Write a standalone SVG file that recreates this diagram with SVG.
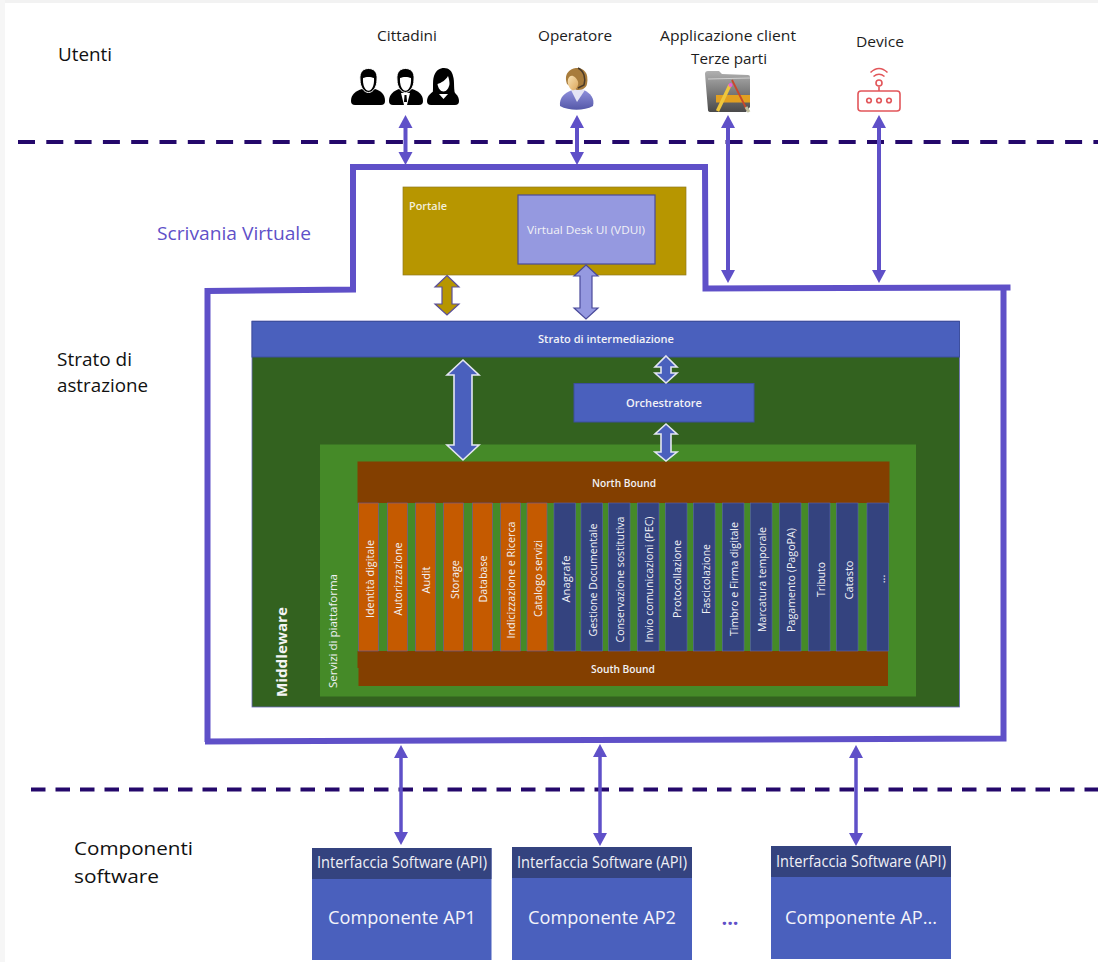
<svg xmlns="http://www.w3.org/2000/svg" width="1098" height="962" viewBox="0 0 1098 962">
<style>
text{font-family:"Open Sans","Noto Sans","Liberation Sans",sans-serif}
.blk{fill:#1c1c1c;font-size:15px;font-weight:500}
.lab{fill:#111;font-size:18.5px;font-weight:500}
.w{fill:#f2f2f6;font-size:10.5px;font-weight:600;text-anchor:middle;dominant-baseline:central}
.r{fill:#f2f2f6;font-size:11px;font-weight:500;text-anchor:middle;dominant-baseline:central}
.api{fill:#f0f0f6;font-size:15.5px;font-weight:500;text-anchor:middle;dominant-baseline:central}
.cmp{fill:#f4f4fa;font-size:19px;font-weight:500;text-anchor:middle;dominant-baseline:central}
.or{fill:#c55a00;stroke:#6a5aa8;stroke-width:.6}
.nv{fill:#34437f;stroke:#5a62b0;stroke-width:.6}
.br{fill:#833f00}
.blue{fill:#4a60bd;stroke:#3d4f9e;stroke-width:1}
.dash{fill:none;stroke:#24086b;stroke-width:4}
.link{fill:none;stroke:#5f50c8;stroke-width:4;marker-start:url(#ah);marker-end:url(#ah)}
.thin{fill:none;stroke:#5f50c8;stroke-width:3.5;marker-start:url(#ah);marker-end:url(#ah)}
.blockw{fill:#4a60bd;stroke:#e4e6f2;stroke-width:1.6}
.rt{fill:none;stroke:#e2565a;stroke-width:1.6}
</style>
<defs>
<marker id="ah" markerUnits="userSpaceOnUse" markerWidth="16" markerHeight="16" refX="1" refY="8" orient="auto-start-reverse"><path d="M0,1 L13,8 L0,15 z" fill="#5f50c8"/></marker>
<linearGradient id="ophead" x1="0" y1="0" x2="1" y2="1"><stop offset="0" stop-color="#f8e2b4"/><stop offset="1" stop-color="#dca75c"/></linearGradient>
<linearGradient id="opbody" x1="0" y1="0" x2="0" y2="1"><stop offset="0" stop-color="#8f90dc"/><stop offset="1" stop-color="#5558a8"/></linearGradient>
<linearGradient id="fold" x1="0" y1="0" x2="0" y2="1"><stop offset="0" stop-color="#b0b0b0"/><stop offset=".5" stop-color="#7c7c7c"/><stop offset="1" stop-color="#4a4a4a"/></linearGradient>
</defs>
<rect width="1098" height="962" fill="#fff"/>
<rect width="1098" height="3" fill="#f2f2f2"/>
<rect width="5" height="962" fill="#f6f6f6"/>

<g id="separators">
<path class="dash" stroke-dasharray="17 11.3" d="M18,142H1098"/>
<path class="dash" stroke-dasharray="14.5 10" d="M31,789.5H1098"/>
</g>

<g id="labels">
<text class="lab" x="58" y="61" textLength="54" lengthAdjust="spacingAndGlyphs">Utenti</text>
<text class="lab" x="57" y="366" textLength="75" lengthAdjust="spacingAndGlyphs">Strato di</text>
<text class="lab" x="57" y="392" textLength="91" lengthAdjust="spacingAndGlyphs">astrazione</text>
<text class="lab" x="74" y="855" textLength="119" lengthAdjust="spacingAndGlyphs">Componenti</text>
<text class="lab" x="74" y="883" textLength="85" lengthAdjust="spacingAndGlyphs">software</text>
<text x="157" y="240" font-size="18.5" font-weight="500" fill="#5f50c8" textLength="154" lengthAdjust="spacingAndGlyphs">Scrivania Virtuale</text>
<text x="730" y="925" font-size="20" font-weight="700" fill="#5f50c8" text-anchor="middle">...</text>
</g>

<g id="scrivania-virtuale" fill="none" stroke="#5f50c8" stroke-width="6">
<path d="M207.500,742 L207.500,291 L353,289.500 L353,167 L705,167 L705.500,288.500 L1010.500,287.500"/>
<path d="M1003.500,288 L1003.500,738.500 L205,741.500"/>
</g>

<g id="cittadini">
<text class="blk" x="407" y="41" text-anchor="middle" textLength="60" lengthAdjust="spacingAndGlyphs">Cittadini</text>
<path d="M351,101 C351,94 356,91 362,89 L375,89 C381,91 385,94 385,101 Q385,105 381,105 L355,105 Q351,105 351,101Z" fill="#000"/>
<path d="M360,80 C359,71 364,68.500 368.500,68.500 C373,68.500 378,71 377,80 C377,87 373,92.500 368.500,92.500 C364,92.500 360,87 360,80Z" fill="#000" stroke="#fff" stroke-width="1"/>
<path d="M363,78 C366,76.500 371,76.500 374,78 C374.500,85 372,90.800 368.500,90.800 C365,90.800 362.500,85 363,78Z" fill="#fff"/>
<path d="M389,101 C389,94 394,91 399,89 L412,89 C418,91 423,94 423,101 Q423,105 419,105 L393,105 Q389,105 389,101Z" fill="#000"/>
<path d="M397,80 C396,71 401,68.500 405.500,68.500 C410,68.500 415,71 414,80 C414,87 410,92.500 405.500,92.500 C401,92.500 397,87 397,80Z" fill="#000" stroke="#fff" stroke-width="1"/>
<path d="M400,78 C403,76.500 408,76.500 411,78 C411.500,85 409,90.800 405.500,90.800 C402,90.800 399.500,85 400,78Z" fill="#fff"/>
<path d="M401,93 L410,93 L407,105 L404,105Z" fill="#fff"/><path d="M404.500,95 L406.500,95 L407,102 L404,102Z" fill="#000"/>
<path d="M427,101 C427,96 431,92 437,90 L450,90 C455,92 459,96 459,101 Q459,105 455,105 L431,105 Q427,105 427,101Z" fill="#000"/>
<path d="M432,97 C434,90 432,82 434,76 C436,70 440,68 444,68 C449,68 452,71 453,76 C455,82 453,90 456,97 Z" fill="#000"/>
<path d="M437.500,84 C441,83 446,80 448,76 C449,79 449.500,81 449.500,84 C449,88 446.500,91.500 443.500,91.500 C440.500,91.500 438,88 437.500,84Z" fill="#fff"/>
<path d="M439,94 L448,94 L443.500,99Z" fill="#fff"/>
</g>

<g id="operatore">
<text class="blk" x="575" y="41" text-anchor="middle" textLength="74" lengthAdjust="spacingAndGlyphs">Operatore</text>
<path d="M560,106 C559,97 565,93 572,90 L584,90 C590,93 595,98 593,106 C584,111 569,111 560,106Z" fill="url(#opbody)"/>
<path d="M571,90 L577,102 L585,90 L578,88Z" fill="#e4e4f4"/>
<path d="M567,84 C563,73 571,68 577,68 C584,68 589,73 587,84 C586,89 581,90 577,90 L572,88Z" fill="#a87c3c"/>
<path d="M568,84 C567,78 570,75 573,76 C577,78 579,82 578,85 C577,89 574,91 572,90 C570,89 569,87 568,84Z" fill="url(#ophead)"/>
<path d="M578,68 C584,71 586,78 584,85 L578,88" fill="none" stroke="#4a3a28" stroke-width="1.500"/>
</g>

<g id="applicazione-client">
<text class="blk" x="728" y="41" text-anchor="middle" textLength="136" lengthAdjust="spacingAndGlyphs">Applicazione client</text>
<text class="blk" x="729" y="64" text-anchor="middle" textLength="76" lengthAdjust="spacingAndGlyphs">Terze parti</text>
<path d="M705,74 L708,110 Q708,112 711,112 L746,112 L750,107 L750,77 Q750,75 748,75 L722,74 L719,71 L708,71 Q705,71 705,74Z" fill="url(#fold)"/>
<path d="M708,79 L750,78" stroke="#d0d0d0" stroke-width="1"/>
<rect x="716" y="95" width="34" height="7.500" fill="#e2a020"/>
<path d="M717.500,111 L730,85" stroke="#eec63c" stroke-width="3.500" fill="none"/>
<path d="M732,80 L747,110" stroke="#c8482a" stroke-width="1.800" fill="none"/>
<path d="M746,107 L749,112" stroke="#c0c0a0" stroke-width="3"/>
<circle cx="730.500" cy="85" r="2" fill="#e860d8"/>
</g>

<g id="device">
<text class="blk" x="880" y="47" text-anchor="middle" textLength="48" lengthAdjust="spacingAndGlyphs">Device</text>
<rect class="rt" x="858" y="91" width="42" height="20" rx="3" fill="#fff" stroke-width="1.800"/>
<circle class="rt" cx="869" cy="100.500" r="2.300"/>
<circle class="rt" cx="879" cy="100.500" r="2.300"/>
<circle class="rt" cx="889" cy="100.500" r="2.300"/>
<path class="rt" d="M879,91 V86.500"/>
<circle class="rt" cx="879" cy="83" r="3"/>
<path class="rt" d="M873.500,76.500 Q879,72 884.500,76.500 M870.500,72.500 Q879,64.500 887.500,72.500"/>
</g>

<g id="portale">
<rect x="403" y="187" width="283" height="88" fill="#b79600" stroke="#8f7a20" stroke-width=".7"/>
<text x="409" y="210" font-size="10" font-weight="600" fill="#f3efdc" textLength="38" lengthAdjust="spacingAndGlyphs">Portale</text>
</g>
<g id="vdui">
<rect x="518" y="195" width="137" height="69" fill="#9599e0" stroke="#4a4a9a" stroke-width="1.200"/>
<text class="r" x="586" y="229" textLength="118" lengthAdjust="spacingAndGlyphs">Virtual Desk UI (VDUI)</text>
</g>

<g id="middleware">
<rect x="252" y="321" width="707.500" height="386" fill="#33621f" stroke="#6a6ab8" stroke-width=".8"/>
<text transform="translate(280.500,652) rotate(-90)" fill="#f4f4f4" font-size="15" font-weight="700" text-anchor="middle" dominant-baseline="central" textLength="90" lengthAdjust="spacingAndGlyphs">Middleware</text>
</g>
<g id="strato-intermediazione">
<rect class="blue" x="252" y="321.500" width="707.500" height="35.500"/>
<text class="w" x="606" y="339" textLength="136" lengthAdjust="spacingAndGlyphs">Strato di intermediazione</text>
</g>
<g id="orchestratore">
<rect class="blue" x="574" y="383.500" width="180" height="38.500"/>
<text class="w" x="664" y="403" textLength="76" lengthAdjust="spacingAndGlyphs">Orchestratore</text>
</g>
<g id="servizi-piattaforma">
<rect x="320" y="444.500" width="596" height="252" fill="#458a28"/>
<text class="r" transform="translate(332,631) rotate(-90)" textLength="114" lengthAdjust="spacingAndGlyphs">Servizi di piattaforma</text>
</g>

<g id="north-bound"><rect class="br" x="357.500" y="461.500" width="532" height="41.500"/>
<text class="w" x="624" y="483" textLength="64" lengthAdjust="spacingAndGlyphs">North Bound</text></g>
<g id="south-bound"><rect class="br" x="357.500" y="651" width="2" height="17"/><rect class="br" x="358.500" y="651" width="529.500" height="35"/>
<text class="w" x="623" y="669" textLength="64" lengthAdjust="spacingAndGlyphs">South Bound</text></g>

<g id="svc-identita"><rect class="or" x="358.500" y="503" width="20" height="148"/><text class="r" transform="translate(369,579) rotate(-90)" textLength="78" lengthAdjust="spacingAndGlyphs">Identità digitale</text></g>
<g id="svc-autorizzazione"><rect class="or" x="387.500" y="503" width="20" height="148"/><text class="r" transform="translate(397,579) rotate(-90)" textLength="73" lengthAdjust="spacingAndGlyphs">Autorizzazione</text></g>
<g id="svc-audit"><rect class="or" x="415.500" y="503" width="20" height="148"/><text class="r" transform="translate(425,580) rotate(-90)" textLength="27" lengthAdjust="spacingAndGlyphs">Audit</text></g>
<g id="svc-storage"><rect class="or" x="443.500" y="503" width="20" height="148"/><text class="r" transform="translate(454,579.500) rotate(-90)" textLength="39" lengthAdjust="spacingAndGlyphs">Storage</text></g>
<g id="svc-database"><rect class="or" x="472.500" y="503" width="20" height="148"/><text class="r" transform="translate(482,579) rotate(-90)" textLength="47" lengthAdjust="spacingAndGlyphs">Database</text></g>
<g id="svc-indicizzazione"><rect class="or" x="500.500" y="503" width="20" height="148"/><text class="r" transform="translate(510.500,580) rotate(-90)" textLength="117" lengthAdjust="spacingAndGlyphs">Indicizzazione e Ricerca</text></g>
<g id="svc-catalogo"><rect class="or" x="527" y="503" width="20" height="148"/><text class="r" transform="translate(537,578.500) rotate(-90)" textLength="77" lengthAdjust="spacingAndGlyphs">Catalogo servizi</text></g>
<g id="svc-anagrafe"><rect class="nv" x="554" y="503" width="21.500" height="148"/><text class="r" transform="translate(565.500,579) rotate(-90)" textLength="47" lengthAdjust="spacingAndGlyphs">Anagrafe</text></g>
<g id="svc-gestione"><rect class="nv" x="581" y="503" width="21.500" height="148"/><text class="r" transform="translate(592,580) rotate(-90)" textLength="113" lengthAdjust="spacingAndGlyphs">Gestione Documentale</text></g>
<g id="svc-conservazione"><rect class="nv" x="608.500" y="503" width="21.500" height="148"/><text class="r" transform="translate(619.500,579.500) rotate(-90)" textLength="126" lengthAdjust="spacingAndGlyphs">Conservazione sostitutiva</text></g>
<g id="svc-pec"><rect class="nv" x="637.500" y="503" width="21.500" height="148"/><text class="r" transform="translate(648,579.500) rotate(-90)" textLength="126" lengthAdjust="spacingAndGlyphs">Invio comunicazioni (PEC)</text></g>
<g id="svc-protocollazione"><rect class="nv" x="665.500" y="503" width="21.500" height="148"/><text class="r" transform="translate(676,579) rotate(-90)" textLength="78" lengthAdjust="spacingAndGlyphs">Protocollazione</text></g>
<g id="svc-fascicolazione"><rect class="nv" x="693.500" y="503" width="21.500" height="148"/><text class="r" transform="translate(705,579) rotate(-90)" textLength="70" lengthAdjust="spacingAndGlyphs">Fascicolazione</text></g>
<g id="svc-timbro"><rect class="nv" x="722.500" y="503" width="21.500" height="148"/><text class="r" transform="translate(733,579) rotate(-90)" textLength="114" lengthAdjust="spacingAndGlyphs">Timbro e Firma digitale</text></g>
<g id="svc-marcatura"><rect class="nv" x="750.500" y="503" width="21.500" height="148"/><text class="r" transform="translate(761,579.500) rotate(-90)" textLength="105" lengthAdjust="spacingAndGlyphs">Marcatura temporale</text></g>
<g id="svc-pagamento"><rect class="nv" x="779.500" y="503" width="21.500" height="148"/><text class="r" transform="translate(790,580) rotate(-90)" textLength="104" lengthAdjust="spacingAndGlyphs">Pagamento (PagoPA)</text></g>
<g id="svc-tributo"><rect class="nv" x="808.500" y="503" width="21.500" height="148"/><text class="r" transform="translate(820,579.500) rotate(-90)" textLength="35" lengthAdjust="spacingAndGlyphs">Tributo</text></g>
<g id="svc-catasto"><rect class="nv" x="836.500" y="503" width="21.500" height="148"/><text class="r" transform="translate(848,580) rotate(-90)" textLength="39" lengthAdjust="spacingAndGlyphs">Catasto</text></g>
<g id="svc-altro"><rect class="nv" x="867" y="503" width="21.500" height="148"/><text class="r" transform="translate(880,579) rotate(-90)">...</text></g>

<g id="api1"><rect x="312" y="848" width="179.500" height="112" fill="#4a60bd"/><rect x="312" y="848" width="179.500" height="31" fill="#34437f"/>
<text class="api" x="402" y="862" textLength="170" lengthAdjust="spacingAndGlyphs">Interfaccia Software (API)</text>
<text class="cmp" x="402" y="917" textLength="148" lengthAdjust="spacingAndGlyphs">Componente AP1</text></g>
<g id="api2"><rect x="512" y="847" width="180" height="113" fill="#4a60bd"/><rect x="512" y="847" width="180" height="31" fill="#34437f"/>
<text class="api" x="602" y="862" textLength="170" lengthAdjust="spacingAndGlyphs">Interfaccia Software (API)</text>
<text class="cmp" x="602" y="917" textLength="148" lengthAdjust="spacingAndGlyphs">Componente AP2</text></g>
<g id="api3"><rect x="771" y="846" width="180" height="113" fill="#4a60bd"/><rect x="771" y="846" width="180" height="31" fill="#34437f"/>
<text class="api" x="861" y="861" textLength="170" lengthAdjust="spacingAndGlyphs">Interfaccia Software (API)</text>
<text class="cmp" x="861" y="917" textLength="152" lengthAdjust="spacingAndGlyphs">Componente AP...</text></g>

<g id="connectors">
<path class="link" d="M405.500,127V153"/>
<path class="link" d="M577,127V153"/>
<path class="link" d="M728,127V271"/>
<path class="link" d="M879,127V271"/>
<path class="thin" d="M401,757V833"/>
<path class="thin" d="M600,756V834"/>
<path class="thin" d="M856,757V834"/>
<path fill="#b79600" stroke="#5b4f9a" stroke-width="1.200" d="M447,275.500 L459,287 L452,287 L452,304 L459,304 L447,315 L435,304 L442,304 L442,287 L435,287Z"/>
<path fill="#9599e0" stroke="#4a4a9a" stroke-width="1.200" d="M586,265 L598,276 L592,276 L592,308 L598,308 L586,319 L574,308 L580,308 L580,276 L574,276Z"/>
<path class="blockw" d="M463,360 L479,375 L472,375 L472,445 L479,445 L463,460 L447,445 L454,445 L454,375 L447,375Z"/>
<path class="blockw" d="M666,356 L677,367 L671,367 L671,373 L677,373 L666,383 L655,373 L661,373 L661,367 L655,367Z"/>
<path class="blockw" d="M666,424 L677,434 L671,434 L671,452 L677,452 L666,461 L655,452 L661,452 L661,434 L655,434Z"/>
</g>
</svg>
